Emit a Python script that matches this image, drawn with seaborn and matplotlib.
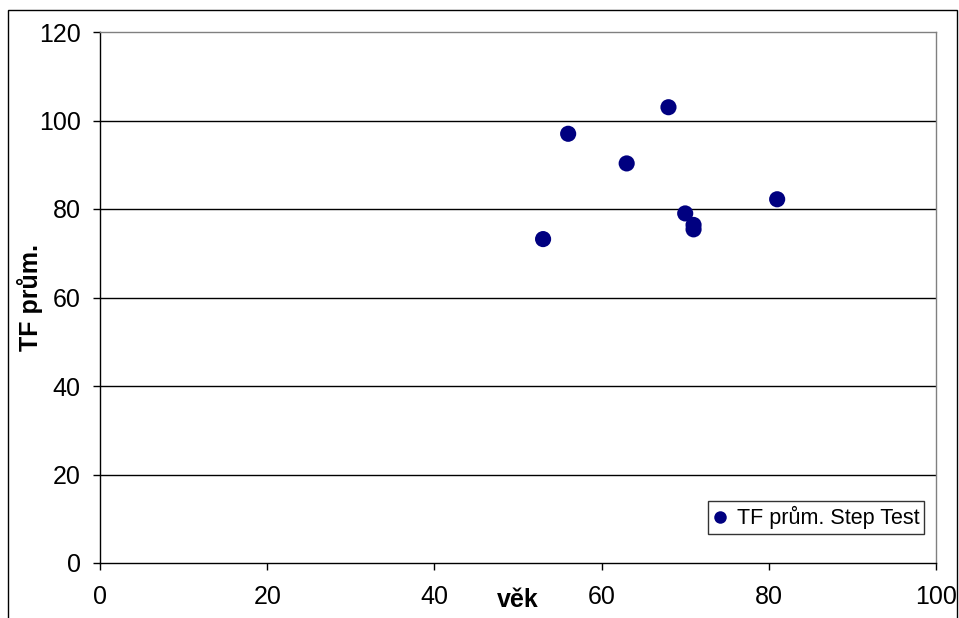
import matplotlib
matplotlib.use("Agg")
import matplotlib.pyplot as plt
import seaborn as sns
import pandas as pd
from matplotlib.patches import Rectangle

age = [68, 56, 63, 81, 70, 71, 71, 53]
tf_mean = [103, 97, 90.3, 82.2, 79, 76.4, 75.4, 73.2]
series_name = "TF prům. Step Test"
x_ticks = [0, 20, 40, 60, 80, 100]
y_ticks = [0, 20, 40, 60, 80, 100, 120]

df = pd.DataFrame({"věk": age, "TF prům.": tf_mean, "series": series_name})

sns.set_theme(style="white")
plt.rcParams['font.family'] = ['Liberation Sans', 'DejaVu Sans']

fig = plt.figure(figsize=(9.59, 6.18), dpi=100)
ax = fig.add_axes([100/959, 1-563/618, 836/959, 531/618])

# outer chart frame
fig.patches.append(Rectangle((8/959, -0.05), 949/959, 1.05 - 10/618,
                             transform=fig.transFigure, fill=False,
                             edgecolor='black', linewidth=1.0))

for y in y_ticks[1:-1]:
    ax.axhline(y, color='black', linewidth=1.0, zorder=1)

sns.scatterplot(data=df, x="věk", y="TF prům.", hue="series",
                palette=["#000080"], s=135, edgecolor='none', ax=ax, zorder=3)

ax.set_xlim(0, 100)
ax.set_ylim(0, 120)
ax.set_xticks(x_ticks)
ax.set_yticks(y_ticks)
ax.tick_params(axis='both', labelsize=18, colors='black', direction='out',
               length=5, width=1)
ax.tick_params(axis='x', pad=11)
ax.tick_params(axis='y', pad=9)
ax.xaxis.set_ticks_position('bottom')
ax.yaxis.set_ticks_position('left')

for side in ['left', 'bottom']:
    ax.spines[side].set_color('black')
    ax.spines[side].set_linewidth(1.0)
for side in ['top', 'right']:
    ax.spines[side].set_color('#808080')
    ax.spines[side].set_linewidth(1.0)

ax.set_xlabel("věk", fontsize=18, fontweight='bold', color='black')
ax.xaxis.set_label_coords(0.5, -0.048)
ax.set_ylabel("TF prům.", fontsize=18, fontweight='bold', color='black')
ax.yaxis.set_label_coords(-0.068, 0.5)

leg = ax.legend(loc='lower right', bbox_to_anchor=(824/836, 29/531),
                fontsize=15.5, frameon=True, fancybox=False, handletextpad=0.4,
                borderpad=0.22, handlelength=0.7, borderaxespad=0)
leg.get_frame().set_edgecolor('black')
leg.get_frame().set_linewidth(1.0)
for t in leg.get_texts():
    t.set_color('black')
for h in leg.legend_handles:
    if hasattr(h, 'set_markersize'):
        h.set_markersize(9)
    elif hasattr(h, 'set_sizes'):
        h.set_sizes([80])

fig.savefig("out.png", dpi=100)
